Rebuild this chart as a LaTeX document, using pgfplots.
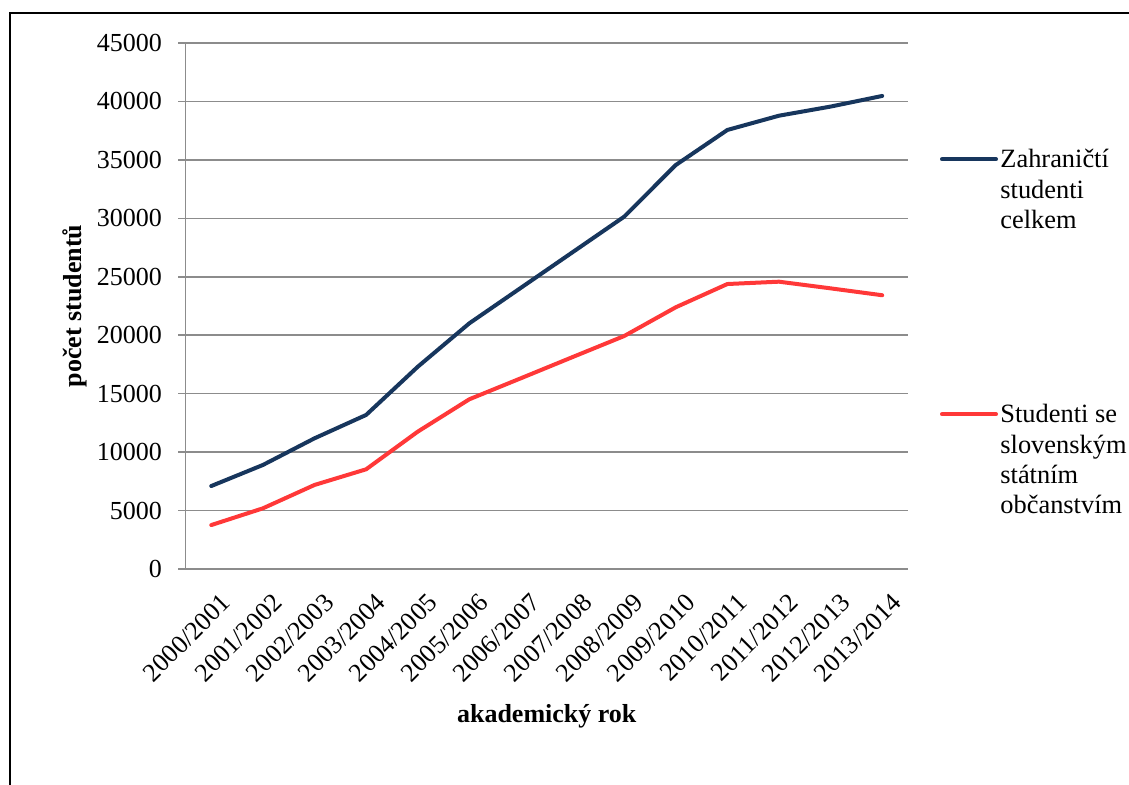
\documentclass[border=0pt]{standalone}
\usepackage{fontspec}
\setmainfont{Liberation Serif}
\usepackage{pgfplots}
\pgfplotsset{compat=1.18}
\definecolor{navy}{HTML}{17365D}
\definecolor{redline}{HTML}{FF3838}
\definecolor{gridgray}{HTML}{8C8C8C}
\begin{document}
\begin{tikzpicture}
\useasboundingbox (0,0) rectangle (564.5pt,-392.5pt);
\draw[line width=1pt] (4.75pt,-400pt) -- (4.75pt,-6.75pt) -- (570pt,-6.75pt);
\begin{axis}[
  at={(92.75pt,-284.5pt)}, anchor=south west,
  scale only axis, width=361.25pt, height=263pt,
  xmin=-0.5, xmax=13.5, ymin=0, ymax=45000,
  xtick={0,...,13},
  xticklabels={2000/2001,2001/2002,2002/2003,2003/2004,2004/2005,2005/2006,2006/2007,2007/2008,2008/2009,2009/2010,2010/2011,2011/2012,2012/2013,2013/2014},
  ytick={0,5000,...,45000},
  ymajorgrids, grid style={gridgray, line width=0.75pt},
  axis lines*=left, axis line style={-, gridgray, line width=0.75pt},
  tick align=outside, major tick length=3.75pt,
  y tick style={gridgray, line width=0.75pt},
  x tick style={draw=none},
  scaled y ticks=false,
  /pgf/number format/assume math mode=true,
  /pgf/number format/1000 sep={},
  yticklabel style={font=\fontsize{13}{15}\selectfont, xshift=-4.5pt},
  xticklabel style={rotate=45, anchor=east, font=\fontsize{13}{15}\selectfont, yshift=-13pt, xshift=1pt},
  xlabel={\textbf{akademický rok}},
  ylabel={\textbf{počet studentů}},
  xlabel style={at={(axis description cs:0.5,-0.2909)}, anchor=base, font=\fontsize{13}{15}\selectfont},
  ylabel style={at={(axis description cs:-0.153,0.5)}, anchor=center, font=\fontsize{13}{15}\selectfont},
  clip=false,
]
\addplot[navy, line width=2pt, line cap=round, line join=round, mark=none] coordinates {
 (0,7100) (1,8900) (2,11180) (3,13180) (4,17300) (5,21020) (6,24060)
 (7,27100) (8,30140) (9,34560) (10,37560) (11,38780) (12,39560) (13,40470)};
\addplot[redline, line width=2pt, line cap=round, line join=round, mark=none] coordinates {
 (0,3760) (1,5190) (2,7190) (3,8530) (4,11750) (5,14520) (6,16320)
 (7,18130) (8,19930) (9,22390) (10,24380) (11,24580) (12,24010) (13,23420)};
\end{axis}
% legend
\draw[navy, line width=2pt, line cap=round] (471pt,-79.65pt) -- (498pt,-79.65pt);
\draw[redline, line width=2pt, line cap=round] (471pt,-207.15pt) -- (498pt,-207.15pt);
\begin{scope}[every node/.style={inner sep=0pt, anchor=base west, font=\fontsize{13.2}{15}\selectfont}]
\node at (500pt,-83.65pt) {Zahraničtí};
\node at (500pt,-99.15pt) {studenti};
\node at (500pt,-114.4pt) {celkem};
\node at (500pt,-211.35pt) {Studenti se};
\node at (500pt,-226.65pt) {slovenským};
\node at (500pt,-242pt) {státním};
\node at (500pt,-257pt) {občanstvím};
\end{scope}
\end{tikzpicture}
\end{document}
